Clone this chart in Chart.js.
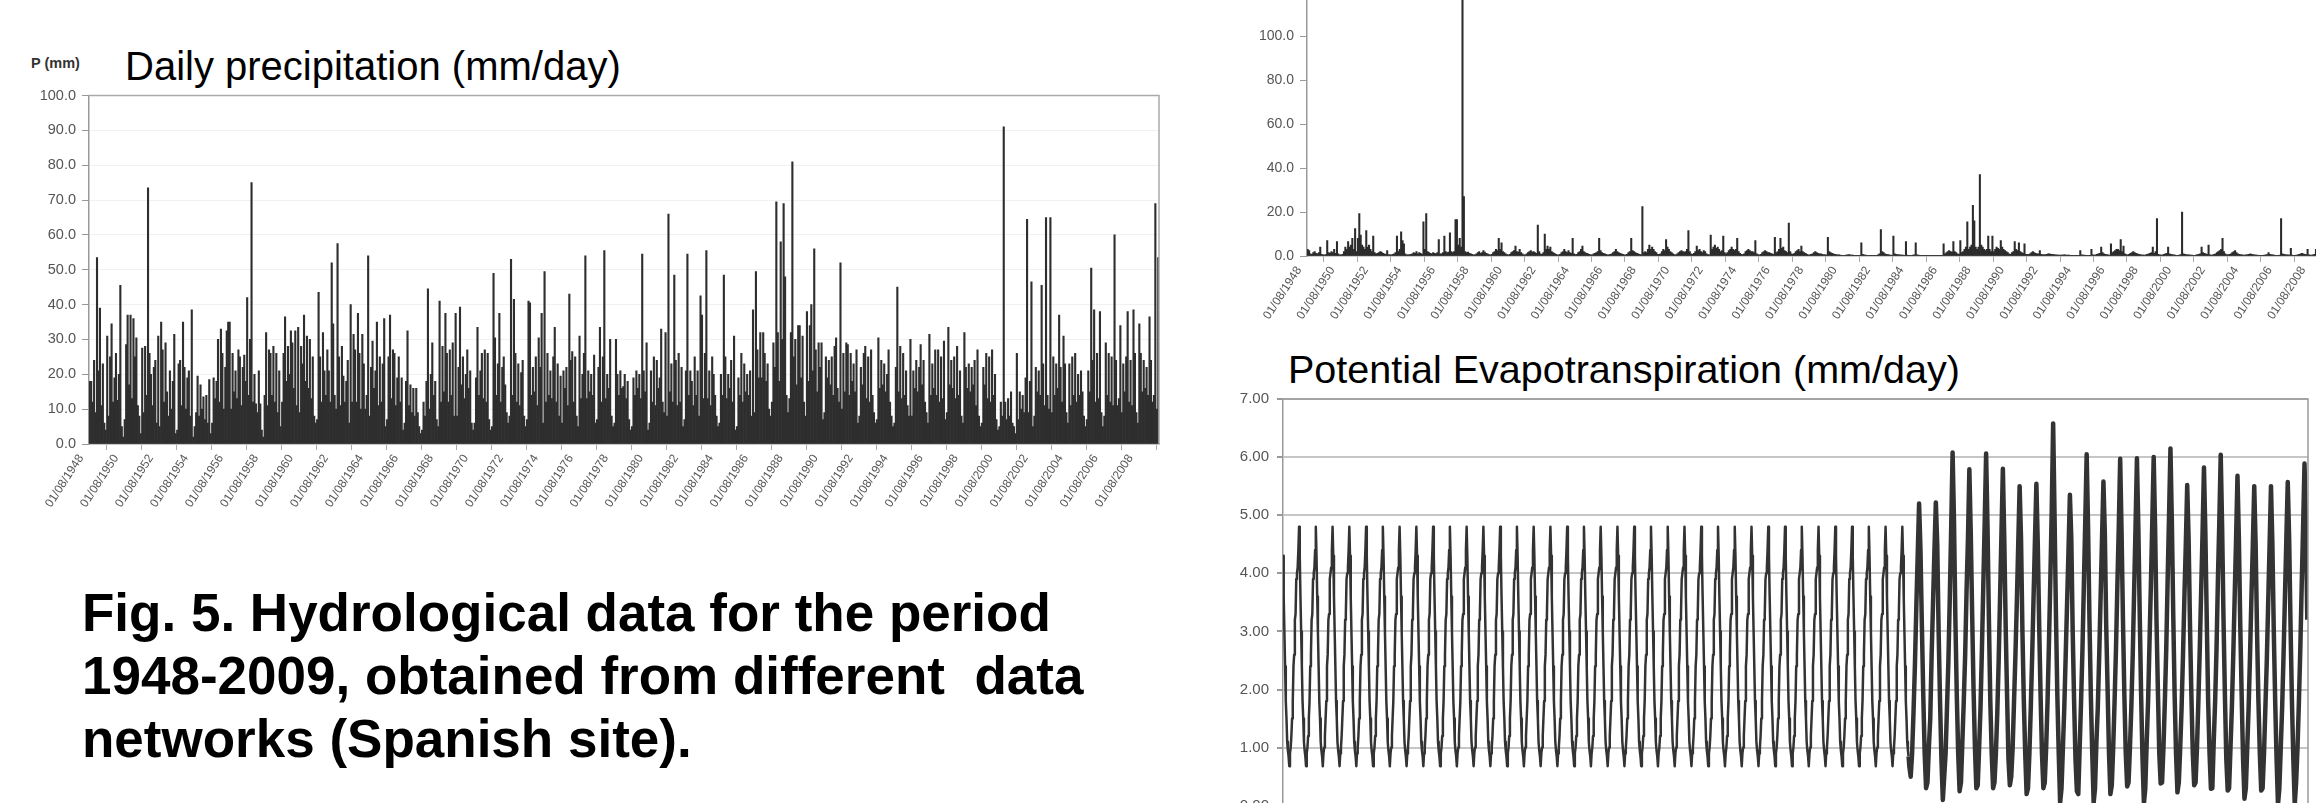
<!DOCTYPE html>
<html>
<head>
<meta charset="utf-8">
<title>Hydrological data 1948-2009</title>
<script src="https://cdn.jsdelivr.net/npm/chart.js@4.4.1/dist/chart.umd.min.js"></script>
<style>
  html, body { margin: 0; padding: 0; background: #fff; }
  body { width: 2316px; height: 803px; overflow: hidden; position: relative; font-family: "Liberation Sans", Arial, sans-serif; }
  .box { position: absolute; }
  .txt { position: absolute; white-space: pre; color: #000; line-height: 1; }
</style>
</head>
<body>
<div class="txt" style="left:31px;top:56px;font-size:14.5px;font-weight:bold;color:#333">P (mm)</div>
<div class="txt" style="left:125px;top:46px;font-size:40px">Daily precipitation (mm/day)</div>
<div class="txt" style="left:82px;top:581px;font-size:53px;font-weight:bold;line-height:63px">Fig. 5. Hydrological data for the period
1948-2009, obtained from different  data
networks (Spanish site).</div>
<div class="txt" style="left:1288px;top:350px;font-size:39.5px">Potential Evapotranspiration (mm/day)</div>

<div class="box" style="left:0;top:0;width:1200px;height:560px"><canvas id="precipChart" width="1200" height="560"></canvas></div>
<div class="box" style="left:1200px;top:-60px;width:1140px;height:420px"><canvas id="flowChart" width="1140" height="420"></canvas></div>
<div class="box" style="left:1200px;top:340px;width:1116px;height:560px"><canvas id="petChart" width="1116" height="560"></canvas></div>

<script>
// tick labels: 01/08 of every second year
const tickYears = [1948, 1950, 1952, 1954, 1956, 1958, 1960, 1962, 1964, 1966, 1968, 1970, 1972, 1974, 1976,
    1978, 1980, 1982, 1984, 1986, 1988, 1990, 1992, 1994, 1996, 1998, 2000, 2002, 2004, 2006, 2008];

// daily precipitation, largest value of each month (mm), Aug 1948 .. Sep 2009
// one row per hydrological year, Aug..Jul
const precip = [
    18, 18, 12, 24, 9, 53.5, 21, 39, 11, 23, 6, 4,
    31, 8, 25, 34.5, 12, 19, 26, 12.5, 20, 45.5, 5, 2,
    7, 28.5, 37, 17, 37, 13, 36, 25, 30.5, 11, 8, 3,
    27.5, 9, 28, 14, 73.5, 26, 20, 11, 22, 24, 6, 31,
    5, 35, 27, 12, 29, 15, 8, 21, 10, 18, 31.5, 3,
    4, 23, 24, 11, 35, 22, 10, 19, 21, 8, 38.5, 2,
    5, 9, 19.5, 8, 17, 10, 13.5, 7, 14, 6, 18.5, 3,
    6, 19, 13, 18, 30, 12, 33, 26, 10, 22, 32.5, 35,
    35, 10, 26, 15, 21, 13, 27, 25, 11, 22, 25.5, 18,
    42, 14, 30, 75, 12, 20, 11.5, 9, 21, 11.5, 4, 2,
    14, 32, 11, 27, 26, 14, 28, 12, 26, 9, 21, 5,
    12, 26, 36.5, 18, 28, 20, 32.5, 29, 16, 32.5, 11, 33.5,
    9, 28, 23, 37, 18, 31, 16, 30, 13, 25, 8, 6,
    7, 43.5, 25, 12, 32, 21, 14, 27, 21, 12, 52, 34.5,
    14, 10, 57.5, 25, 11, 28, 19.5, 12, 18, 24, 6, 40,
    12, 31.5, 27, 12, 37.5, 26, 10, 31.5, 23, 10, 14, 54,
    8, 22, 29.5, 16, 21, 35, 11, 25, 12, 23, 36, 5,
    7, 25, 37, 13, 27, 26, 11, 19, 25, 12, 19, 4,
    6, 18, 32.5, 11, 17, 9, 16, 8, 16, 9, 5, 3,
    4, 12, 8, 18, 44.5, 10, 20, 29, 14, 18, 7, 5,
    41, 12, 28, 15, 37.5, 26, 12, 27, 14, 29, 8, 37.5,
    8, 22, 39.3, 17, 25, 13, 20, 27, 16, 21, 6, 4,
    6, 19, 33.5, 14, 21, 26, 13, 27, 12, 26, 7, 4,
    5, 49, 30.5, 14, 23, 37.5, 12, 22, 25, 17, 9, 6,
    8, 53, 14, 41.5, 26, 12, 23, 11, 20.5, 24, 8, 5,
    7, 41, 40.5, 14, 22, 15, 25, 11, 30.5, 22, 37.5, 6,
    49.5, 12, 26, 14, 21, 13, 25, 33.5, 12, 23, 8, 19.5,
    6, 21, 16, 22, 11, 43, 24, 26.5, 12, 25, 8, 5,
    31, 13, 20, 26, 54, 13, 21, 15, 20, 14, 25.5, 6,
    7, 22, 33.5, 12, 25, 55.5, 13, 20, 16, 30, 8, 5,
    6, 30, 20, 14, 21, 16, 16.5, 20, 13, 18, 7, 4,
    5, 19, 14, 21, 16, 20, 13, 54.5, 21, 15, 29, 4,
    6, 21, 12, 25, 11, 24, 16, 19, 33, 12, 9, 32,
    8, 66, 15, 23, 12, 48.5, 24, 11, 26, 12, 22, 5,
    7, 21, 54.5, 14, 21, 18, 11, 25, 14, 21, 8, 42.5,
    37, 13, 26, 55.5, 13, 21, 11, 25, 20, 14, 8, 5,
    6, 20, 14, 48.5, 25, 13, 20, 16, 24, 12, 31, 4,
    5, 19, 14, 26, 12, 23, 15, 20, 14, 21, 8, 38.5,
    9, 49.5, 27, 19, 32, 19, 32, 26, 18, 23, 10, 8,
    12, 29, 22, 69.5, 32, 18, 58, 30, 69, 48, 14, 9,
    13, 32, 81, 25, 30, 17, 34, 34, 19, 31, 12, 8,
    38, 18, 34, 40, 21, 56, 27, 15, 29, 22, 29, 7,
    9, 25, 19, 24, 17, 25, 14, 28, 30.5, 16, 12, 52,
    10, 26, 15, 29, 28.5, 14, 26, 18, 23, 15, 27, 6,
    8, 22, 17, 26, 28, 13, 25, 12, 27, 14, 9, 6,
    7, 30.5, 16, 24, 17, 23, 15, 20, 27, 12, 8, 5,
    6, 22, 45, 15, 28, 13, 26, 14, 21, 11, 8, 30,
    8, 21, 16, 24, 15, 22, 28.5, 17, 24, 12, 9, 6,
    31.5, 14, 23, 16, 27, 14, 27, 12, 25, 13, 29.5, 7,
    9, 33.5, 17, 24, 16, 25, 13, 28, 14, 21, 8, 6,
    32, 22, 16, 23, 15, 22, 17, 24, 11, 27, 8, 5,
    6, 22, 17, 26, 13, 25, 12, 27, 14, 20, 7, 4,
    5, 12, 8, 91, 12, 7, 13, 8, 15, 6, 5, 3,
    26, 7, 15, 10, 14, 9, 19, 64.5, 9, 18, 46.5, 5,
    8, 22, 15, 21, 14, 45.5, 23, 11, 65, 14, 10, 65,
    9, 25, 14, 23, 16, 37, 22, 12, 31, 23, 9, 6,
    23, 11, 25, 14, 26, 12, 20, 14, 21, 15, 8, 5,
    7, 21, 15, 50.5, 24, 38.5, 12, 26, 13, 38, 9, 5,
    8, 29, 14, 26, 12, 25, 11, 60, 24, 11, 13, 34,
    9, 23, 15, 25, 38, 12, 24, 11, 38.5, 26, 9, 6,
    34.5, 26, 15, 24, 16, 22, 14, 36.5, 24, 12, 14, 69,
    10, 53.5
];

// streamflow chart (top right), monthly peak values, Aug 1948 .. Sep 2009
const flow = [
    3, 2.5, 1, 0.8, 1.5, 2, 1.2, 1, 1.5, 4, 0.8, 0.5,
    0.5, 0.6, 7, 1.5, 1.2, 2, 1.5, 3, 1.2, 6.5, 1, 0.5,
    0.5, 0.8, 2, 4, 3, 6.5, 4, 5, 8, 3, 12.5, 2,
    8, 19.3, 9.5, 5, 4, 3, 11.5, 4, 5, 3, 2, 9,
    1.5, 1, 1.2, 1.5, 2, 1.8, 1.2, 1, 0.8, 2.5, 0.6, 0.5,
    0.5, 0.8, 1, 1.5, 9, 2, 3, 11, 7, 5.5, 1, 0.5,
    0.5, 0.6, 0.8, 1, 1.5, 1.2, 2, 1, 1.5, 1.2, 0.8, 15.5,
    3, 19.3, 2, 1.5, 1.2, 1, 1.5, 1.2, 1, 1.5, 7.5, 1,
    1, 1.5, 9, 2, 1.5, 1.8, 10.5, 2, 1.5, 2, 16.5, 16.5,
    5, 8, 4, 150, 27, 2, 1.5, 1.8, 1.2, 1, 0.8, 0.5,
    0.5, 1, 1.5, 2, 1.2, 1.5, 2.5, 1.8, 1.2, 1, 0.6, 0.5,
    0.8, 1.5, 2, 3, 2.5, 8, 3, 6, 2, 1.5, 1, 0.6,
    0.5, 0.8, 1.5, 2, 2.5, 4.5, 2, 1.8, 3, 1.5, 1, 0.5,
    0.5, 1, 1.5, 2, 2.5, 1.8, 2, 1.5, 1.2, 14, 2, 1,
    0.8, 1.5, 10, 3, 4.5, 3, 4, 2, 1.5, 1.2, 0.8, 0.5,
    0.5, 0.8, 1.5, 2, 3, 2, 1.5, 2.5, 1.5, 1.2, 8, 1,
    0.6, 0.8, 1.5, 2, 3, 4.5, 2, 1.5, 1.2, 1, 0.8, 0.5,
    0.5, 1, 1.2, 1.5, 2, 8, 2.5, 1.5, 1.2, 1, 0.8, 0.5,
    0.5, 0.8, 1, 1.5, 2, 3, 2, 1.5, 1.2, 1, 0.8, 0.5,
    0.5, 0.8, 1.5, 2, 8, 2.5, 2, 1.5, 1.2, 1, 0.8, 0.5,
    22.5, 1.5, 2, 1.5, 3, 5, 3, 4, 3, 2, 1.5, 0.8,
    0.8, 1, 2, 3, 2.5, 7.5, 4, 3, 2, 1.5, 1, 0.6,
    0.5, 1, 1.5, 2, 2.5, 2, 1.8, 2, 3, 11.5, 2, 1,
    0.8, 1.2, 2, 4.5, 2.5, 3, 2, 1.5, 2.5, 2, 1, 0.6,
    0.5, 9.5, 3, 4, 5, 3.5, 4, 3, 2, 2.5, 9, 1.5,
    1, 1.5, 2.5, 3, 4, 3, 2.5, 3, 8, 2, 1.2, 0.8,
    0.6, 1, 2, 2.5, 3, 2.5, 2, 2, 1.5, 7, 1, 0.6,
    0.5, 0.8, 1.5, 2, 2.5, 2, 1.5, 1.5, 1.2, 1, 0.8, 8.5,
    1.5, 2, 3, 8, 3.5, 4, 2.5, 2, 1.5, 15, 2, 1,
    0.8, 1.2, 2, 2.5, 3, 2, 4.5, 2, 1.5, 1.2, 0.8, 0.5,
    0.5, 0.8, 1, 1.5, 2, 1.5, 1.2, 1, 1, 0.8, 0.6, 0.5,
    0.5, 8.5, 2, 1.5, 1.2, 1, 0.8, 0.6, 0.5, 0.5, 0.4, 0.3,
    0.3, 0.3, 0.4, 0.5, 0.6, 0.5, 0.4, 0.4, 0.3, 0.3, 0.3, 0.3,
    0.3, 6, 0.8, 0.5, 0.4, 0.3, 0.3, 0.3, 0.3, 0.3, 0.3, 0.3,
    0.3, 0.5, 1, 12, 2, 1.5, 1, 0.8, 0.6, 0.5, 0.4, 0.3,
    9, 1, 0.8, 0.6, 0.5, 0.5, 0.4, 0.4, 0.3, 6.5, 0.4, 0.3,
    0.3, 0.3, 0.4, 0.5, 6, 0.5, 0.4, 0.3, 0.3, 0.3, 0.3, 0.3,
    0.3, 0.3, 0.3, 0.3, 0.3, 0.3, 0.3, 0.3, 0.3, 0.3, 0.3, 0.3,
    5.5, 1, 1.5, 2, 2.5, 2, 1.8, 6.5, 2, 1.5, 1, 0.8,
    7, 1.5, 2, 3, 4, 15.5, 3, 4, 5, 23, 16, 4,
    3, 4, 37, 5, 4, 3, 2.5, 3, 9, 3, 2, 9,
    2, 3, 4, 3.5, 3, 7, 4, 3, 2.5, 2, 1.5, 1,
    0.8, 1.5, 2, 6.5, 3, 2.5, 6, 2, 1.5, 1.2, 5.5, 0.8,
    0.6, 0.8, 1, 1.5, 2, 1.5, 1.2, 1, 1, 2.5, 0.8, 0.6,
    0.5, 0.6, 0.8, 1, 1, 0.8, 0.8, 0.6, 0.5, 0.5, 0.4, 0.4,
    0.4, 0.4, 0.5, 0.5, 0.4, 0.4, 0.4, 0.3, 0.3, 0.3, 0.3, 0.3,
    0.3, 0.3, 2.5, 0.5, 0.4, 0.4, 0.3, 0.3, 0.3, 0.3, 3, 0.5,
    0.4, 0.5, 0.8, 1, 1.2, 4, 1.5, 1, 0.8, 0.6, 0.5, 0.4,
    5.5, 1.5, 2, 2.5, 3, 3, 2.5, 7.5, 2, 4.5, 1, 0.6,
    0.5, 0.8, 1.2, 1.5, 2, 1.5, 1.2, 1, 0.8, 0.6, 0.5, 0.4,
    0.4, 0.5, 0.8, 1, 1.2, 1.5, 4, 1.2, 2, 17, 0.8, 0.5,
    0.4, 0.5, 0.8, 1, 1.2, 4, 1, 0.8, 0.6, 0.5, 0.4, 0.3,
    0.3, 0.4, 0.6, 20, 1, 0.8, 0.6, 0.5, 0.5, 0.4, 0.4, 0.3,
    0.3, 0.4, 0.6, 0.8, 1, 4, 1.5, 1.2, 1, 0.8, 5, 0.5,
    0.4, 0.5, 0.8, 1, 1.5, 2, 2.5, 3, 8, 2, 1, 0.6,
    0.5, 0.8, 1, 1.5, 2, 2.5, 1.5, 1, 0.8, 0.6, 0.5, 0.4,
    0.4, 0.5, 0.6, 0.8, 1, 0.8, 0.6, 0.5, 0.4, 0.4, 0.3, 0.3,
    0.3, 0.3, 0.4, 0.5, 0.6, 1.5, 0.8, 0.6, 0.5, 0.4, 0.3, 0.3,
    0.3, 0.4, 17, 1, 0.8, 0.6, 0.5, 0.5, 0.4, 3.5, 0.4, 0.3,
    0.3, 0.4, 0.5, 0.8, 1, 1.2, 1, 0.8, 0.6, 3, 0.5, 0.4,
    0.4, 0.5, 0.8, 3, 1.2, 1.5, 1.2, 1, 0.8, 0.6, 0.5, 0.4,
    0.4, 0.5
];

// PET 1948-1985: the same mean year repeats, read twice a month from 1 Aug
const petCycle = [4.3, 3.6, 3.0, 2.4, 1.8, 1.5, 1.1, 0.95, 0.85, 0.68, 0.9, 1.0,
    1.2, 1.5, 1.8, 2.4, 2.6, 3.2, 3.3, 3.9, 4.0, 4.1, 4.4, 4.8];
const cycleYears = 37 + 5 / 12;   // Aug 1948 .. Dec 1985

// PET measured, monthly, Jan 1986 .. Sep 2009 (Jan..Dec rows)
const petObserved = [
    0.5, 0.9, 1.6, 2.4, 3.4, 4.3, 5.2, 4.4, 3.1, 1.9, 0.9, 0.3,
    0.4, 1.0, 1.5, 2.6, 3.5, 4.4, 5.22, 4.5, 3.0, 1.8, 0.8, 0.1,
    0.5, 0.9, 1.7, 2.5, 3.6, 4.8, 6.08, 4.9, 3.2, 1.9, 0.9, 0.25,
    0.4, 1.1, 1.8, 2.6, 3.7, 4.6, 5.79, 4.7, 3.3, 2.0, 1.0, 0.3,
    0.35, 1.0, 1.7, 2.7, 3.8, 4.9, 6.06, 4.8, 3.2, 1.8, 0.9, 0.3,
    0.4, 0.9, 1.6, 2.5, 3.6, 4.7, 5.8, 4.6, 3.1, 1.9, 0.8, 0.35,
    0.5, 1.0, 1.8, 2.6, 3.5, 4.5, 5.5, 4.6, 3.0, 1.8, 0.9, 0.2,
    0.3, 0.9, 1.7, 2.6, 3.6, 4.6, 5.54, 4.5, 3.1, 1.9, 0.9, 0.3,
    0.4, 1.0, 1.8, 2.8, 3.9, 5.1, 6.58, 5.0, 3.3, 1.9, 0.9, 0.05,
    0.3, 1.0, 1.7, 2.6, 3.5, 4.4, 5.35, 4.6, 3.0, 1.8, 0.8, 0.25,
    0.2, 1.0, 1.8, 2.7, 3.8, 4.9, 6.05, 4.8, 3.2, 1.9, 0.9, 0.05,
    0.3, 1.1, 1.7, 2.6, 3.6, 4.6, 5.58, 4.7, 3.1, 2.0, 0.9, 0.2,
    0.35, 1.0, 1.8, 2.7, 3.8, 4.8, 5.97, 4.7, 3.2, 1.9, 0.9, 0.33,
    0.4, 1.0, 1.7, 2.6, 3.7, 4.8, 5.98, 4.8, 3.3, 1.9, 0.8, 0.04,
    0.3, 1.1, 1.8, 2.8, 3.8, 4.9, 6.0, 4.8, 3.2, 2.0, 0.9, 0.38,
    0.4, 1.0, 1.8, 2.7, 3.9, 5.0, 6.15, 4.9, 3.3, 1.9, 0.9, 0.23,
    0.4, 1.0, 1.7, 2.6, 3.6, 4.5, 5.52, 4.6, 3.1, 1.9, 0.9, 0.35,
    0.4, 1.0, 1.8, 2.7, 3.7, 4.7, 5.82, 4.7, 3.2, 1.8, 0.9, 0.29,
    0.3, 1.1, 1.8, 2.7, 3.9, 4.9, 6.04, 4.8, 3.2, 1.9, 0.8, 0.26,
    0.3, 1.0, 1.7, 2.6, 3.6, 4.6, 5.68, 4.6, 3.1, 1.9, 0.8, 0.12,
    0.3, 1.0, 1.7, 2.6, 3.6, 4.5, 5.5, 4.5, 3.0, 1.8, 0.9, 0.26,
    0.3, 0.9, 1.7, 2.5, 3.5, 4.5, 5.5, 4.5, 3.0, 1.8, 0.8, 0.02,
    0.3, 1.0, 1.7, 2.6, 3.6, 4.6, 5.57, 4.6, 3.1, 1.8, 0.8, 0.02,
    0.4, 1.0, 1.8, 2.7, 3.8, 4.8, 5.89, 4.8, 3.2
];

const start = 1948 + 7 / 12;   // 01/08/1948
const end = 2009 + 9 / 12;     // 30/09/2009
const observedStart = 1986;

Chart.defaults.font.family = '"Liberation Sans", Arial, sans-serif';

// top + right border of the plot area
Chart.register({
    id: 'frame',
    afterDatasetsDraw(chart, args, opts) {
        if (!opts.color) return;
        const { ctx, chartArea: a } = chart;
        ctx.save();
        ctx.strokeStyle = opts.color;
        ctx.lineWidth = opts.width || 1;
        ctx.beginPath();
        ctx.moveTo(a.left, a.top);
        ctx.lineTo(a.right, a.top);
        ctx.lineTo(a.right, a.bottom);
        ctx.stroke();
        ctx.restore();
    }
});

function monthly(values) {
    return values.map((v, i) => ({ x: start + (i + 0.5) / 12, y: v }));
}

function dateAxis(height) {
    return {
        type: 'linear', min: start, max: end, offset: false,
        afterBuildTicks: (s) => { s.ticks = tickYears.map(y => ({ value: y + 7 / 12 })); },
        afterFit: (s) => { s.height = height; },
        ticks: {
            autoSkip: false, minRotation: 57, maxRotation: 57, labelOffset: -8, padding: 2,
            color: '#555', font: { size: 12 },
            callback: (v) => '01/08/' + Math.round(v - 7 / 12)
        },
        grid: { drawOnChartArea: false, tickLength: 6, color: '#aaa' },
        border: { color: '#999', width: 1.5 }
    };
}

function valueAxis(min, max, step, digits, size, width, gridColor) {
    return {
        min, max,
        afterFit: (s) => { s.width = width; },
        ticks: { stepSize: step, color: '#555', font: { size }, padding: 6, callback: (v) => v.toFixed(digits) },
        grid: { color: gridColor, drawOnChartArea: !!gridColor, tickColor: '#999', tickLength: 7 },
        border: { color: '#999', width: 1.5 }
    };
}

const common = { responsive: false, animation: false, devicePixelRatio: 1 };

// Daily precipitation
new Chart(document.getElementById('precipChart'), {
    type: 'bar',
    data: {
        datasets: [{
            data: monthly(precip),
            backgroundColor: '#2e2e2e',
            borderWidth: 0,
            barPercentage: 1,
            categoryPercentage: 1
        }]
    },
    options: {
        ...common,
        layout: { padding: { left: 29, top: 95.5, right: 41, bottom: 16 } },
        plugins: { legend: { display: false }, tooltip: { enabled: false }, frame: { color: '#aaa', width: 1.5 } },
        scales: {
            x: dateAxis(100),
            y: valueAxis(0, 100, 10, 1, 14.5, 60, '#f1f1f1')
        }
    }
});

// Streamflow (top right, upper part cut off)
new Chart(document.getElementById('flowChart'), {
    type: 'bar',
    data: {
        datasets: [{
            data: monthly(flow),
            backgroundColor: '#2b2b2b',
            borderWidth: 0,
            barPercentage: 1,
            categoryPercentage: 1
        }]
    },
    options: {
        ...common,
        layout: { padding: { left: 47, top: 52, right: 9.4, bottom: 14 } },
        plugins: { legend: { display: false }, tooltip: { enabled: false } },
        scales: {
            x: dateAxis(90),
            y: valueAxis(0, 120, 20, 1, 14, 60, null)
        }
    }
});

// Potential evapotranspiration (lower part cut off)
const petPoints = [];
const cycleSteps = Math.round(cycleYears * 24);
for (let i = 0; i < cycleSteps; i++) {
    petPoints.push({ x: start + i / 24, y: petCycle[i % petCycle.length] });
}
petObserved.forEach((v, j) => petPoints.push({ x: observedStart + (j + 0.5) / 12, y: v }));

new Chart(document.getElementById('petChart'), {
    type: 'line',
    data: {
        datasets: [{
            data: petPoints,
            borderColor: '#333',
            borderWidth: 2.5,
            borderJoinStyle: 'round',
            pointRadius: 0,
            tension: 0,
            fill: false,
            segment: {
                borderWidth: (ctx) => ctx.p0.parsed.x >= observedStart - 0.1 ? 4.5 : 2.5
            }
        }]
    },
    options: {
        ...common,
        layout: { padding: { left: 23, top: 59, right: 8, bottom: 94.3 } },
        plugins: { legend: { display: false }, tooltip: { enabled: false }, frame: { color: '#999', width: 1.5 } },
        scales: {
            x: { type: 'linear', min: start, max: end, display: false },
            y: {
                min: 0, max: 7,
                afterFit: (s) => { s.width = 60; },
                ticks: { stepSize: 1, color: '#555', font: { size: 15 }, padding: 8, callback: (v) => v.toFixed(2) },
                grid: { color: '#c6c6c6', lineWidth: 2, tickColor: '#999', tickLength: 6 },
                border: { color: '#999', width: 1.5 }
            }
        }
    }
});
</script>
</body>
</html>
